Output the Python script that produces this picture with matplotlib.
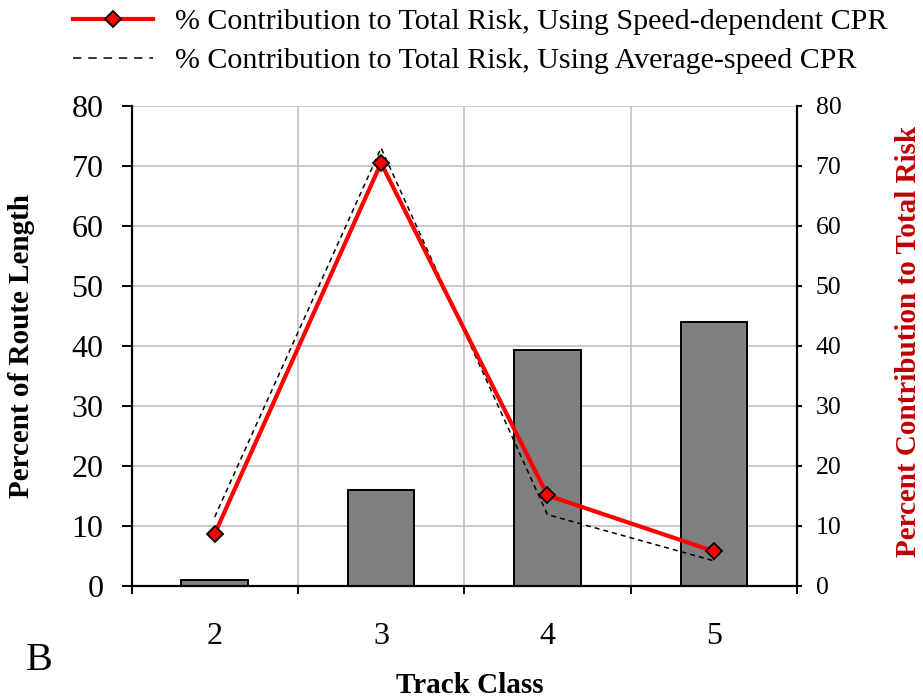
import matplotlib
matplotlib.use("Agg")
import matplotlib.pyplot as plt
from matplotlib.lines import Line2D

# Track classes and series
track_classes = ["2", "3", "4", "5"]
route_length_pct = [1.0, 16.0, 39.3, 44.0]          # Percent of route length (bars)
risk_speed_cpr = [8.7, 70.5, 15.1, 5.8]              # % contribution, speed-dependent CPR
risk_avg_cpr = [11.5, 73.0, 11.9, 4.2]               # % contribution, average-speed CPR
y_ticks = [0, 10, 20, 30, 40, 50, 60, 70, 80]

legend_labels = [
    "% Contribution to Total Risk, Using Speed-dependent CPR",
    "% Contribution to Total Risk, Using Average-speed CPR",
]

plt.rcParams["font.family"] = ["Liberation Serif", "DejaVu Serif"]

W, H = 923, 698
fig = plt.figure(figsize=(W / 100, H / 100), dpi=100)

# axes box in pixels
x0, x1, y_top, y_bot = 131.5, 797.0, 106.0, 586.0
ax = fig.add_axes([x0 / W, 1 - y_bot / H, (x1 - x0) / W, (y_bot - y_top) / H])

x = list(range(len(track_classes)))

ax.set_axisbelow(True)
ax.bar(x, route_length_pct, width=0.4, color="#808080", edgecolor="black",
       linewidth=1.4, zorder=2)

ax.set_xlim(-0.5, len(track_classes) - 0.5)
ax.set_ylim(0, 80)
ax.set_yticks(y_ticks)
ax.set_xticks(x)
ax.set_xticklabels(track_classes)
ax.set_xticks([i - 0.5 for i in range(len(track_classes) + 1)], minor=True)

ax.grid(False)
ax.yaxis.grid(True, color="#c0c0c0", linewidth=1.2)
ax.xaxis.grid(True, which="minor", color="#c0c0c0", linewidth=1.2)

for side in ("top", "right"):
    ax.spines[side].set_visible(False)
for side in ("left", "bottom"):
    ax.spines[side].set_linewidth(1.6)
    ax.spines[side].set_zorder(3)

ax.tick_params(axis="y", which="major", direction="out", length=7.2, width=1.4,
               labelsize=23, pad=13)
ax.tick_params(axis="x", which="major", length=0, labelsize=23, pad=26)
ax.tick_params(axis="x", which="minor", direction="out", length=5.8, width=1.4)

ax.set_ylabel("Percent of Route Length", fontsize=21, fontweight="bold")
ax.yaxis.set_label_coords((22 - x0) / (x1 - x0), 0.5)
ax.yaxis.label.set_va("center")

ax.set_xlabel("Track Class", fontsize=21, fontweight="bold")
ax.xaxis.set_label_coords((470 - x0) / (x1 - x0), (y_bot - 693) / (y_bot - y_top))
ax.xaxis.label.set_va("baseline")

# secondary axis for risk contribution
ax2 = ax.twinx()
ax2.set_ylim(0, 80)
ax2.set_yticks(y_ticks)
for side in ("top", "left", "bottom"):
    ax2.spines[side].set_visible(False)
ax2.spines["right"].set_linewidth(1.6)
ax2.tick_params(axis="y", direction="out", length=3.8, width=1.4, labelsize=18.5, pad=9.6)

avg_line, = ax2.plot(x, risk_avg_cpr, color="black", linewidth=1.1,
                     linestyle=(0, (3.3, 2.6)), zorder=3)
speed_line, = ax2.plot(x, risk_speed_cpr, color="#ff0000", linewidth=3.0,
                       marker="D", markersize=8, markerfacecolor="#ff0000",
                       markeredgecolor="black", markeredgewidth=1.3, zorder=4)

ax2.set_ylabel("Percent Contribution to Total Risk", fontsize=21,
               fontweight="bold", color="#c00000", rotation=90)
ax2.yaxis.set_label_coords((908 - x0) / (x1 - x0), 0.51)
ax2.yaxis.label.set_va("center")
ax2.yaxis.label.set_ha("center")

# legend key for the dashed series uses a coarser dash so it reads at small length
avg_key = Line2D([], [], color="black", linewidth=1.1, linestyle=(0, (5.5, 4.5)))

fig.legend([speed_line, avg_key], legend_labels,
           loc="upper left", bbox_to_anchor=(73 / W, 1 - 8 / H),
           frameon=False, fontsize=21.6, numpoints=1,
           handlelength=2.65, handletextpad=0.75, labelspacing=0.4,
           borderpad=0, borderaxespad=0)

fig.text(26 / W, 1 - 670 / H, "B", fontsize=29, ha="left", va="baseline")

fig.savefig("out.png", dpi=100)
